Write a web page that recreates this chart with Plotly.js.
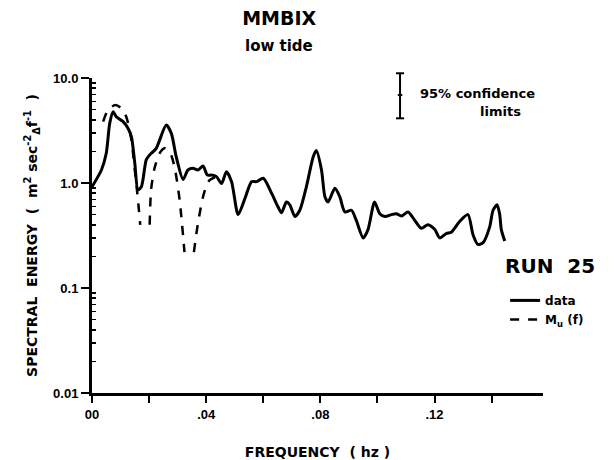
<!DOCTYPE html>
<html>
<head>
<meta charset="utf-8">
<script src="https://cdn.plot.ly/plotly-3.0.1.min.js"></script>
<style>html,body{margin:0;padding:0;background:#fff;}#chart{width:615px;height:460px;}</style>
</head>
<body>
<div id="chart"></div>
<script>
// Measured spectrum ("data"), frequency in Hz
const dataFreq = [0.0000,0.0033,0.0050,0.0062,0.0074,0.0085,0.0109,0.0126,0.0138,0.0150,0.0161,0.0173,0.0190,0.0202,0.0225,0.0260,0.0278,0.0295,0.0319,0.0336,0.0354,0.0371,0.0389,0.0404,0.0419,0.0436,0.0454,0.0471,0.0489,0.0512,0.0536,0.0559,0.0576,0.0600,0.0629,0.0652,0.0664,0.0681,0.0693,0.0711,0.0728,0.0751,0.0775,0.0786,0.0804,0.0816,0.0827,0.0851,0.0868,0.0886,0.0909,0.0926,0.0950,0.0967,0.0990,0.1008,0.1026,0.1049,0.1066,0.1084,0.1107,0.1131,0.1154,0.1177,0.1201,0.1218,0.1241,0.1259,0.1288,0.1317,0.1335,0.1352,0.1370,0.1393,0.1405,0.1419,0.1428,0.1434,0.1446];
const dataEnergy = [0.92,1.33,1.92,3.70,4.78,4.28,3.84,3.32,2.76,1.54,0.86,0.92,1.66,1.85,2.14,3.57,2.97,1.78,1.08,1.33,1.38,1.33,1.45,1.19,1.19,1.15,0.99,1.28,1.03,0.50,0.715,1.03,1.03,1.11,0.80,0.59,0.52,0.66,0.62,0.48,0.55,0.92,1.78,2.04,1.33,0.74,0.66,0.89,0.74,0.53,0.55,0.44,0.30,0.36,0.66,0.51,0.48,0.50,0.51,0.485,0.53,0.44,0.37,0.40,0.36,0.30,0.33,0.34,0.43,0.50,0.32,0.26,0.27,0.38,0.55,0.62,0.51,0.36,0.28];

// Model spectrum M_u(f); null marks where the curve drops off the plot
const modelFreq = [0.0039,0.0056,0.0082,0.0103,0.0120,0.0138,0.0150,0.0161,0.0169,null,0.0202,0.0207,0.0219,0.0237,0.0254,0.0272,0.0289,0.0307,0.0324,null,0.0357,0.0371,0.0389,0.0404,0.0413,0.0431];
const modelEnergy = [3.84,4.96,5.53,5.15,4.28,2.57,1.33,0.69,0.40,null,0.40,0.86,1.38,1.92,2.14,1.99,1.43,0.69,0.22,null,0.22,0.41,0.74,0.99,1.07,1.13];

const xTickVals = [0, 0.04, 0.08, 0.12];
const xTickText = ["00", ".04", ".08", ".12"];
const xMinorVals = [0.02, 0.06, 0.10, 0.14];
const yTickVals = [0.01, 0.1, 1, 10];
const yTickText = ["0.01", "0.1", "1.0", "10.0"];
const yMinorVals = [];
[0.01, 0.1, 1].forEach(d => { for (let k = 2; k <= 9; k++) yMinorVals.push(+(d * k).toPrecision(2)); });

const FONT = "DejaVu Sans, sans-serif";
const TICKFONT = "Liberation Sans, Arial, sans-serif";

const traces = [
  {x: dataFreq, y: dataEnergy, name: "data", mode: "lines",
   line: {color: "#000", width: 3, shape: "spline", smoothing: 0.7}},
  {x: modelFreq, y: modelEnergy, name: "M<sub>u</sub> (f)", mode: "lines", connectgaps: false,
   line: {color: "#000", width: 2.5, dash: "dash", shape: "spline", smoothing: 0.7}}
];

const layout = {
  width: 615, height: 460,
  margin: {l: 92, r: 72, t: 78, b: 67},
  paper_bgcolor: "#fff", plot_bgcolor: "#fff",
  font: {family: FONT, color: "#000", size: 13, weight: 700},
  title: {text: "MMBIX", font: {size: 19, weight: 700, family: FONT},
          xref: "paper", x: 0.415, xanchor: "center", yref: "container", y: 0.96, yanchor: "middle"},
  showlegend: true,
  legend: {x: 0.916, xanchor: "left", y: 0.34, yanchor: "top", bgcolor: "rgba(0,0,0,0)",
           font: {size: 12, weight: 700, family: FONT}, tracegroupgap: 0, itemwidth: 30},
  xaxis: {
    type: "linear", range: [0, 0.158], showgrid: false, zeroline: false,
    showline: true, linecolor: "#000", linewidth: 3,
    tickmode: "array", tickvals: xTickVals, ticktext: xTickText,
    ticks: "outside", ticklen: 7, tickwidth: 2, tickcolor: "#000",
    tickfont: {size: 13, weight: 700, family: TICKFONT},
    minor: {tickmode: "array", tickvals: xMinorVals, ticks: "outside", ticklen: 7, tickwidth: 2, tickcolor: "#000", showgrid: false},
    title: {text: "FREQUENCY  ( hz )", font: {size: 14, weight: 700, family: FONT}, standoff: 28}
  },
  yaxis: {
    type: "log", range: [-2, 1], showgrid: false, zeroline: false,
    showline: true, linecolor: "#000", linewidth: 3,
    tickmode: "array", tickvals: yTickVals, ticktext: yTickText,
    ticks: "outside", ticklen: 8, tickwidth: 2, tickcolor: "#000",
    tickfont: {size: 13, weight: 700, family: TICKFONT},
    minor: {tickmode: "array", tickvals: yMinorVals, ticks: "inside", ticklen: 4, tickwidth: 1.5, tickcolor: "#000", showgrid: false},
    title: {text: "SPECTRAL  ENERGY  (  m<sup>2</sup> sec<sup>-2</sup><sub>Δ</sub>f<sup>-1</sup>  )", font: {size: 14, weight: 700, family: FONT}, standoff: 13}
  },
  annotations: [
    {text: "low tide", xref: "paper", yref: "paper", x: 0.415, y: 1.102, xanchor: "center", yanchor: "middle",
     showarrow: false, font: {size: 15, weight: 700}},
    {text: "95% confidence", xref: "paper", yref: "paper", x: 0.723, y: 0.952, xanchor: "left", yanchor: "middle",
     showarrow: false, font: {size: 13, weight: 700}},
    {text: "limits", xref: "paper", yref: "paper", x: 0.905, y: 0.895, xanchor: "center", yanchor: "middle",
     showarrow: false, font: {size: 13, weight: 700}},
    {text: "RUN  25", xref: "paper", yref: "paper", x: 0.911, y: 0.403, xanchor: "left", yanchor: "middle",
     showarrow: false, font: {size: 20, weight: 700}}
  ],
  shapes: [
    {type: "line", xref: "paper", yref: "paper", x0: 0.683, x1: 0.683, y0: 0.872, y1: 1.015, line: {color: "#000", width: 2}},
    {type: "line", xref: "paper", yref: "paper", x0: 0.674, x1: 0.692, y0: 1.015, y1: 1.015, line: {color: "#000", width: 2}},
    {type: "line", xref: "paper", yref: "paper", x0: 0.674, x1: 0.692, y0: 0.872, y1: 0.872, line: {color: "#000", width: 2}},
    {type: "line", xref: "paper", yref: "paper", x0: 0.678, x1: 0.688, y0: 0.946, y1: 0.946, line: {color: "#000", width: 2}}
  ]
};

Plotly.newPlot("chart", traces, layout, {staticPlot: true, displayModeBar: false});
</script>
</body>
</html>
